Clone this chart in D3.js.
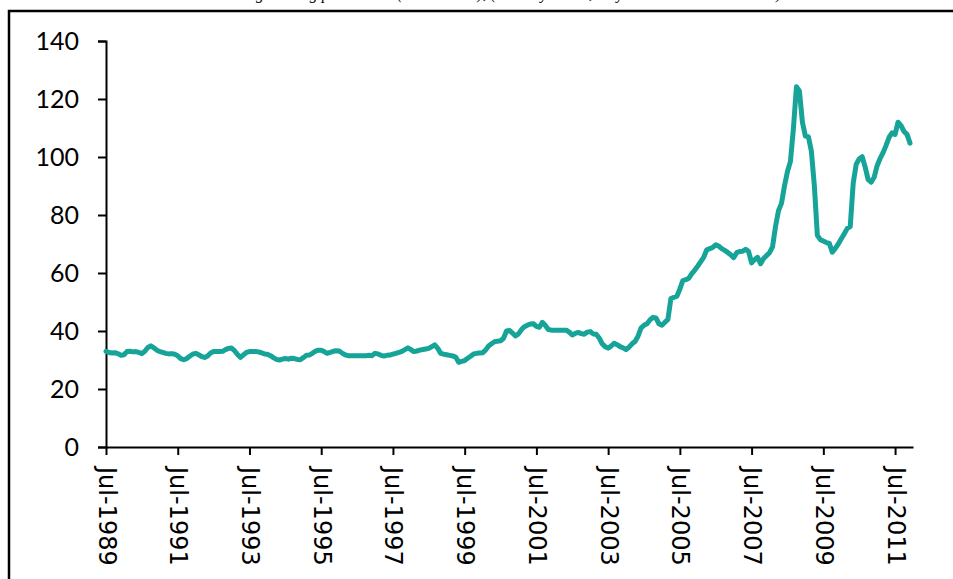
<!DOCTYPE html>
<html>
<head>
<meta charset="utf-8">
<script src="https://cdn.jsdelivr.net/npm/d3@7"></script>
<style>
  html, body { margin: 0; padding: 0; background: #fff; overflow: hidden; }
  svg { display: block; }
</style>
</head>
<body>
<svg id="chart" width="953" height="579"></svg>
<script>
// ---- Data (monthly index, Jul-1989 .. Dec-2011) ----
const startYear = 1989;
const startMonth = 6; // July (0-based)
const priceIndex = [
  // 1989 Jul-Dec
  33.0, 32.6, 32.4, 32.5, 32.2, 31.6,
  // 1990
  31.8, 32.9, 33.0, 32.8, 32.9, 32.6, 32.2, 33.0, 34.3, 34.9, 34.2, 33.4,
  // 1991
  32.9, 32.6, 32.3, 32.1, 32.2, 32.0, 31.4, 30.5, 30.1, 30.5, 31.3, 32.0,
  // 1992
  32.3, 31.8, 31.2, 30.9, 31.4, 32.4, 32.9, 32.9, 32.9, 33.0, 33.6, 34.0,
  // 1993
  34.1, 33.2, 31.9, 30.9, 31.8, 32.6, 32.9, 32.9, 32.9, 32.8, 32.5, 32.1,
  // 1994
  32.0, 31.5, 30.8, 30.2, 30.0, 30.3, 30.5, 30.3, 30.6, 30.5, 30.2, 30.1,
  // 1995
  30.8, 31.6, 31.7, 32.3, 33.0, 33.4, 33.4, 32.9, 32.3, 32.6, 33.0, 33.2,
  // 1996
  33.1, 32.4, 31.8, 31.5, 31.5, 31.5, 31.5, 31.5, 31.5, 31.5, 31.6, 31.5,
  // 1997
  32.3, 32.1, 31.6, 31.4, 31.6, 31.7, 32.0, 32.3, 32.6, 33.0, 33.6, 34.2,
  // 1998
  33.6, 32.9, 33.1, 33.4, 33.6, 33.8, 34.0, 34.6, 35.2, 34.0, 32.3, 32.0,
  // 1999
  31.8, 31.6, 31.4, 31.0, 29.2, 29.5, 29.8, 30.6, 31.3, 32.1, 32.3, 32.4,
  // 2000
  32.5, 33.4, 34.8, 35.6, 36.3, 36.5, 36.6, 37.5, 40.0, 40.2, 39.3, 38.3,
  // 2001
  39.0, 40.5, 41.5, 42.0, 42.4, 42.5, 41.6, 41.3, 43.0, 41.9, 40.5, 40.3,
  // 2002
  40.3, 40.3, 40.3, 40.3, 40.3, 39.6, 38.6, 39.2, 39.5, 39.1, 38.9, 39.6,
  // 2003
  39.8, 39.0, 38.9, 37.6, 35.6, 34.6, 34.1, 34.8, 35.8, 35.3, 34.6, 34.2,
  // 2004
  33.6, 34.4, 35.6, 36.4, 38.2, 41.0, 42.0, 42.5, 43.8, 44.7, 44.5, 42.5,
  // 2005
  42.0, 43.0, 44.0, 51.2, 51.6, 52.0, 54.5, 57.4, 57.7, 58.2, 59.8, 61.0,
  // 2006
  62.4, 63.9, 65.5, 68.0, 68.4, 68.8, 69.7, 69.3, 68.4, 67.8, 67.1, 66.3,
  // 2007
  65.3, 67.0, 67.4, 67.5, 68.2, 67.4, 63.5, 64.6, 65.4, 63.2, 65.0, 66.0,
  // 2008
  67.0, 69.0, 76.0, 81.5, 84.0, 90.0, 95.0, 98.5, 110.0, 124.2, 122.8, 112.0,
  // 2009
  107.2, 107.0, 102.0, 90.0, 73.0, 71.5, 71.0, 70.5, 70.2, 67.2, 68.5, 70.0,
  // 2010
  71.8, 73.5, 75.4, 76.0, 91.0, 97.5, 99.3, 100.1, 96.5, 92.2, 91.3, 93.0,
  // 2011
  97.0, 99.5, 101.5, 104.0, 106.8, 108.3, 107.8, 112.0, 110.8, 108.8, 107.8, 104.8
];
const tickIndices = [0, 24, 48, 72, 96, 120, 144, 168, 192, 216, 240, 264];
const tickLabels = ["Jul-1989", "Jul-1991", "Jul-1993", "Jul-1995", "Jul-1997", "Jul-1999",
                    "Jul-2001", "Jul-2003", "Jul-2005", "Jul-2007", "Jul-2009", "Jul-2011"];
const yTicks = [0, 20, 40, 60, 80, 100, 120, 140];
const titleText = "Average selling price index (2005 = 100), (monthly series, July 1989 \u2013 December 2011)";

// ---- Drawing ----
const svg = d3.select("#chart");

// Outer frame (extends beyond the visible area on right and bottom)
svg.append("rect")
  .attr("x", 9).attr("y", 11)
  .attr("width", 1000).attr("height", 700)
  .attr("fill", "none").attr("stroke", "#000").attr("stroke-width", 2.5);

// Title (cut off at top, as in the reference)
svg.append("text")
  .attr("x", 500).attr("y", -1)
  .attr("text-anchor", "middle")
  .attr("font-family", "Liberation Serif, Times New Roman, serif")
  .attr("font-style", "italic")
  .attr("font-size", 16)
  .text(titleText);

const x = d3.scaleLinear().domain([0, 270]).range([106, 913]);
const y = d3.scaleLinear().domain([0, 140]).range([447, 41]);

// Y axis
const yAxis = svg.append("g")
  .attr("transform", `translate(${x(0)},0)`)
  .call(d3.axisLeft(y).tickValues(yTicks).tickSize(8).tickPadding(19).tickFormat(d3.format("d")));
yAxis.select(".domain").attr("stroke", "#000").attr("stroke-width", 2);
yAxis.selectAll(".tick line").attr("stroke", "#000").attr("stroke-width", 2);
yAxis.selectAll(".tick text")
  .attr("font-family", "Lato, Carlito, sans-serif")
  .attr("font-size", 25)
  .attr("fill", "#000");

// X axis
const xAxis = svg.append("g")
  .attr("transform", `translate(0,${y(0)})`)
  .call(d3.axisBottom(x).tickValues(tickIndices).tickSize(8).tickSizeOuter(0)
        .tickFormat((d, i) => tickLabels[i]));
xAxis.select(".domain").attr("stroke", "#000").attr("stroke-width", 2);
xAxis.selectAll(".tick line").attr("stroke", "#000").attr("stroke-width", 2);
xAxis.selectAll(".tick text")
  .attr("font-family", "DejaVu Sans, sans-serif")
  .attr("font-size", 24)
  .attr("fill", "#000")
  .attr("text-anchor", "start")
  .attr("dominant-baseline", "central")
  .attr("transform", "translate(0,20) rotate(90)")
  .attr("x", 0).attr("y", 0).attr("dy", null);

// Line
const line = d3.line()
  .x((d, i) => x(i))
  .y(d => y(d));

svg.append("path")
  .datum(priceIndex)
  .attr("fill", "none")
  .attr("stroke", "#16a398")
  .attr("stroke-width", 5)
  .attr("stroke-linejoin", "round")
  .attr("stroke-linecap", "round")
  .attr("d", line);
</script>
</body>
</html>
